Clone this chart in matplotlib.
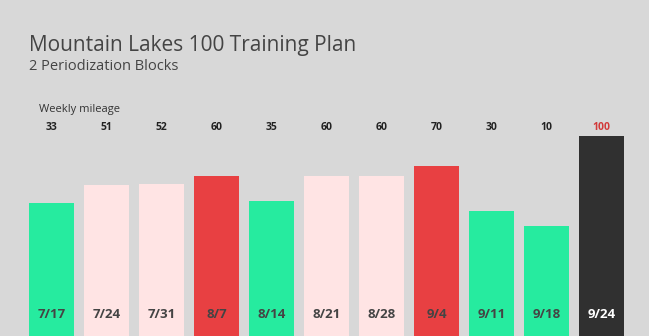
import matplotlib
matplotlib.use("Agg")
import matplotlib.pyplot as plt

weeks = ["7/17", "7/24", "7/31", "8/7", "8/14", "8/21", "8/28", "9/4", "9/11", "9/18", "9/24"]
mileage_labels = [33, 51, 52, 60, 35, 60, 60, 70, 30, 10, 100]
bar_heights = [33, 51, 52, 60, 35, 60, 60, 70, 25, 10, 100]
kinds = ["recovery", "build", "build", "peak", "recovery", "build", "build", "peak", "recovery", "recovery", "race"]

colors = {"recovery": "#26EB9F", "build": "#FFE4E4", "peak": "#E84042", "race": "#303030"}
label_colors = {"recovery": "#444444", "build": "#444444", "peak": "#444444", "race": "#FFFFFF"}

BG = "#D8D8D8"
base = -100

fig = plt.figure(figsize=(6.49, 3.36), dpi=100, facecolor=BG)
ax = fig.add_axes([0, 0, 1, 1])
ax.set_facecolor(BG)
ax.set_xlim(-51.5 / 55, (649 - 51.5) / 55)
ax.set_ylim(-100, 236)
ax.axis("off")

x = list(range(len(weeks)))
ax.bar(x, [v - base for v in bar_heights], bottom=base, width=45 / 55,
       color=[colors[k] for k in kinds], linewidth=0)

for i, (w, v, k) in enumerate(zip(weeks, mileage_labels, kinds)):
    ax.text(i, 108, str(v), ha="center", va="center", fontsize=7.5, fontweight="bold",
            color="#D23A3A" if k == "race" else "#222222", family="Open Sans")
    ax.text(i, -78, w, ha="center", va="center", fontsize=9.5, fontweight="bold",
            color=label_colors[k], family="Open Sans")

fig.text(29 / 649, 1 - 45 / 336, "Mountain Lakes 100 Training Plan", ha="left", va="center",
         fontsize=15, color="#444444", family="Open Sans")
fig.text(29 / 649, 1 - 67 / 336, "2 Periodization Blocks", ha="left", va="center",
         fontsize=10.5, color="#444444", family="Open Sans")
fig.text(39 / 649, 1 - 110 / 336, "Weekly mileage", ha="left", va="center",
         fontsize=8, color="#333333", family="Open Sans")

fig.savefig("out.png", dpi=100, facecolor=BG)
